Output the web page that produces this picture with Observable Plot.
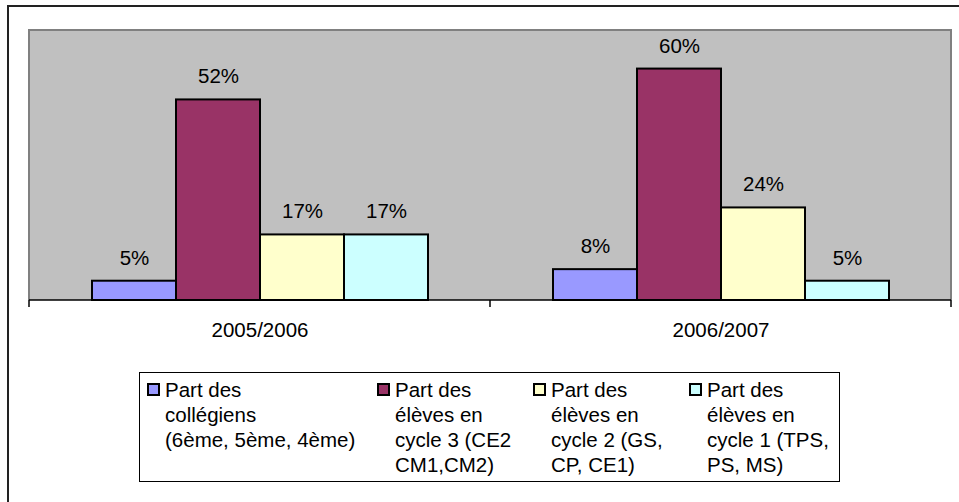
<!DOCTYPE html>
<html>
<head>
<meta charset="utf-8">
<script src="https://cdn.jsdelivr.net/npm/d3@7"></script>
<script src="https://cdn.jsdelivr.net/npm/@observablehq/plot@0.6"></script>
<style>
  html, body { margin: 0; padding: 0; background: #fff; }
  #wrap { position: relative; width: 959px; height: 502px; overflow: hidden; font-family: "Liberation Sans", Arial, sans-serif; background: #fff; }
  #outer { position: absolute; left: 7px; top: 5px; width: 1000px; height: 600px; border: 2px solid #222; box-sizing: border-box; background: transparent; pointer-events: none; }
  #chart { position: absolute; left: 0; top: 0; }
  #legend { position: absolute; left: 139px; top: 372px; width: 701px; height: 110px; border: 1px solid #000; box-sizing: border-box; background: #fff; }
  .item { position: absolute; top: 4px; }
  .mk { position: absolute; left: 0; top: 6px; width: 13px; height: 13px; border: 2px solid #000; box-sizing: border-box; }
  .tx { position: absolute; left: 18px; top: 0; font-size: 20.5px; line-height: 25px; white-space: nowrap; color: #000; }
</style>
</head>
<body>
<div id="wrap">
  <div id="chart"></div>
  <div id="legend"></div>
  <div id="outer"></div>
</div>
<script>
// ---- data ----
const years = ["2005/2006", "2006/2007"];
const series = [
  "Part des collégiens (6ème, 5ème, 4ème)",
  "Part des élèves en cycle 3 (CE2 CM1,CM2)",
  "Part des élèves en cycle 2 (GS, CP, CE1)",
  "Part des élèves en cycle 1 (TPS, PS, MS)"
];
const collegiens = [5, 8];
const cycle3 = [52, 60];
const cycle2 = [17, 24];
const cycle1 = [17, 5];
const colors = ["#9999FF", "#993366", "#FFFFCC", "#CCFFFF"];
const legendLines = [
  ["Part des", "collégiens", "(6ème, 5ème, 4ème)"],
  ["Part des", "élèves en", "cycle 3 (CE2", "CM1,CM2)"],
  ["Part des", "élèves en", "cycle 2 (GS,", "CP, CE1)"],
  ["Part des", "élèves en", "cycle 1 (TPS,", "PS, MS)"]
];
const legendLefts = [7, 237, 393, 549];

const seriesValues = [collegiens, cycle3, cycle2, cycle1];
const rows = [];
years.forEach((yr, i) => {
  series.forEach((s, j) => rows.push({year: yr, series: s, value: seriesValues[j][i]}));
});

const FONT = '"Liberation Sans", Arial, sans-serif';

const plot = Plot.plot({
  width: 959,
  height: 345,
  marginLeft: 29,
  marginRight: 8,
  marginTop: 30,
  marginBottom: 45,
  style: {fontFamily: FONT, fontSize: "20.5px", color: "#000", background: "transparent"},
  fx: {domain: years, padding: 0, tickSize: 0, tickPadding: 22, label: null},
  x: {domain: series, paddingInner: 0, paddingOuter: 0.744, axis: null},
  y: {domain: [0, 70], axis: null},
  color: {domain: series, range: colors},
  marks: [
    Plot.barY(rows, {fx: "year", x: "series", y: "value", fill: "series", stroke: "#000", strokeWidth: 2, insetLeft: 0, insetRight: 0}),
    Plot.text(rows, {fx: "year", x: "series", y: "value", text: d => d.value + "%", dy: -23, fontSize: 20.5, fill: "#000"})
  ]
});
document.getElementById("chart").appendChild(plot);

// chart chrome: plot-area background, outline, baseline and category boundary ticks
const fx = plot.scale("fx");
const ys = plot.scale("y");
const x0 = fx.range[0], x1 = fx.range[1];
const step = (x1 - x0) / fx.domain.length;
const yb = ys.range[0], yt = ys.range[1];
d3.select(plot).insert("rect", ":first-child")
  .attr("x", x0).attr("y", yt).attr("width", x1 - x0).attr("height", yb - yt)
  .attr("fill", "#C0C0C0");
const g = d3.select(plot).append("g");
g.append("path")
  .attr("d", `M${x0},${yb}V${yt}H${x1}V${yb}`)
  .attr("fill", "none").attr("stroke", "#808080").attr("stroke-width", 2);
g.append("line")
  .attr("x1", x0).attr("x2", x1).attr("y1", yb).attr("y2", yb)
  .attr("stroke", "#000").attr("stroke-width", 1.5);
d3.range(fx.domain.length + 1).forEach(i => {
  const xx = x0 + i * step;
  g.append("line").attr("x1", xx).attr("x2", xx).attr("y1", yb).attr("y2", yb + 7)
    .attr("stroke", "#000").attr("stroke-width", 1.5);
});

// legend
const leg = d3.select("#legend");
series.forEach((s, j) => {
  const it = leg.append("div").attr("class", "item").style("left", legendLefts[j] + "px");
  it.append("div").attr("class", "mk").style("background", colors[j]);
  it.append("div").attr("class", "tx").html(legendLines[j].join("<br>"));
});
</script>
</body>
</html>
